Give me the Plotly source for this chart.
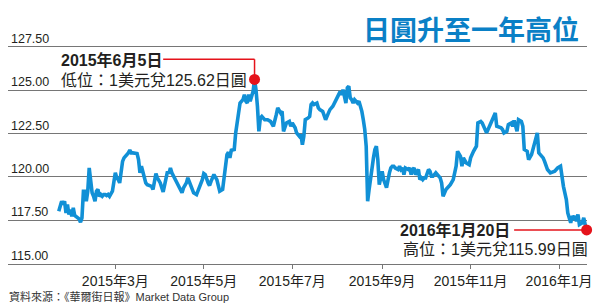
import plotly.graph_objects as go

# ---------------- data (USD/JPY closing rate) ----------------
dates = [
    # 2015-01
    "2015-01-21", "2015-01-23", "2015-01-24", "2015-01-25", "2015-01-26", "2015-01-27", "2015-01-28", "2015-01-29", "2015-01-30", "2015-01-31",
    # 2015-02
    "2015-02-01", "2015-02-02", "2015-02-03", "2015-02-04", "2015-02-05", "2015-02-06", "2015-02-07", "2015-02-08", "2015-02-09", "2015-02-10",
    "2015-02-11", "2015-02-12", "2015-02-13", "2015-02-14", "2015-02-15", "2015-02-16", "2015-02-17", "2015-02-18", "2015-02-19", "2015-02-20",
    "2015-02-21", "2015-02-22", "2015-02-23", "2015-02-24", "2015-02-25", "2015-02-27", "2015-02-28",
    # 2015-03
    "2015-03-01", "2015-03-02", "2015-03-03", "2015-03-04", "2015-03-05", "2015-03-06", "2015-03-07", "2015-03-08", "2015-03-09", "2015-03-10",
    "2015-03-11", "2015-03-12", "2015-03-13", "2015-03-15", "2015-03-16", "2015-03-17", "2015-03-18", "2015-03-19", "2015-03-20", "2015-03-21",
    "2015-03-22", "2015-03-23", "2015-03-26", "2015-03-27", "2015-03-29", "2015-03-30",
    # 2015-04
    "2015-04-01", "2015-04-03", "2015-04-05", "2015-04-06", "2015-04-07", "2015-04-08", "2015-04-09", "2015-04-12", "2015-04-14", "2015-04-16",
    "2015-04-17", "2015-04-19", "2015-04-20", "2015-04-22", "2015-04-24", "2015-04-26", "2015-04-28", "2015-04-30",
    # 2015-05
    "2015-05-01", "2015-05-02", "2015-05-04", "2015-05-05", "2015-05-06", "2015-05-08", "2015-05-10", "2015-05-11", "2015-05-12", "2015-05-14",
    "2015-05-15", "2015-05-17", "2015-05-18", "2015-05-19", "2015-05-20", "2015-05-22", "2015-05-23", "2015-05-24", "2015-05-25", "2015-05-26",
    "2015-05-28", "2015-05-29", "2015-05-30", "2015-05-31",
    # 2015-06
    "2015-06-01", "2015-06-02", "2015-06-03", "2015-06-04", "2015-06-05", "2015-06-06", "2015-06-07", "2015-06-08", "2015-06-09", "2015-06-10",
    "2015-06-12", "2015-06-14", "2015-06-16", "2015-06-18", "2015-06-20", "2015-06-21", "2015-06-23", "2015-06-24", "2015-06-25", "2015-06-27",
    "2015-06-29", "2015-06-30",
    # 2015-07
    "2015-07-01", "2015-07-03", "2015-07-04", "2015-07-06", "2015-07-07", "2015-07-08", "2015-07-09", "2015-07-10", "2015-07-12", "2015-07-13",
    "2015-07-14", "2015-07-15", "2015-07-16", "2015-07-18", "2015-07-19", "2015-07-20", "2015-07-22", "2015-07-24", "2015-07-26", "2015-07-27",
    "2015-07-29", "2015-07-31",
    # 2015-08
    "2015-08-02", "2015-08-03", "2015-08-04", "2015-08-05", "2015-08-06", "2015-08-07", "2015-08-08", "2015-08-09", "2015-08-10", "2015-08-11",
    "2015-08-12", "2015-08-13", "2015-08-15", "2015-08-16", "2015-08-17", "2015-08-18", "2015-08-19", "2015-08-20", "2015-08-21", "2015-08-22",
    "2015-08-23", "2015-08-24", "2015-08-25", "2015-08-26", "2015-08-27", "2015-08-28", "2015-08-29", "2015-08-30",
    # 2015-09
    "2015-09-01", "2015-09-02", "2015-09-04", "2015-09-05", "2015-09-06", "2015-09-07", "2015-09-08", "2015-09-09", "2015-09-10", "2015-09-12",
    "2015-09-13", "2015-09-14", "2015-09-15", "2015-09-16", "2015-09-17", "2015-09-19", "2015-09-20", "2015-09-21", "2015-09-22", "2015-09-23",
    "2015-09-24", "2015-09-26", "2015-09-27", "2015-09-28", "2015-09-29", "2015-09-30",
    # 2015-10
    "2015-10-01", "2015-10-03", "2015-10-04", "2015-10-05", "2015-10-06", "2015-10-07", "2015-10-08", "2015-10-11", "2015-10-12", "2015-10-13",
    "2015-10-15", "2015-10-18", "2015-10-20", "2015-10-22", "2015-10-23", "2015-10-25", "2015-10-26", "2015-10-27", "2015-10-29", "2015-10-31",
    # 2015-11
    "2015-11-01", "2015-11-03", "2015-11-05", "2015-11-06", "2015-11-08", "2015-11-09", "2015-11-12", "2015-11-15", "2015-11-18", "2015-11-19",
    "2015-11-22", "2015-11-23", "2015-11-24", "2015-11-26", "2015-11-27", "2015-11-29", "2015-11-30",
    # 2015-12
    "2015-12-01", "2015-12-03", "2015-12-04", "2015-12-06", "2015-12-07", "2015-12-08", "2015-12-10", "2015-12-11", "2015-12-13", "2015-12-15",
    "2015-12-17", "2015-12-18", "2015-12-20", "2015-12-21", "2015-12-22", "2015-12-24", "2015-12-26", "2015-12-29", "2015-12-31",
    # 2016-01
    "2016-01-02", "2016-01-04", "2016-01-06", "2016-01-07", "2016-01-08", "2016-01-09", "2016-01-10", "2016-01-11", "2016-01-12", "2016-01-13",
    "2016-01-14", "2016-01-15", "2016-01-17", "2016-01-18", "2016-01-19", "2016-01-20",
]

usd_jpy = [
    # 2015-01
    118.03, 118.60, 118.41, 118.60, 117.93, 118.41, 117.84, 118.12, 117.74, 118.22,
    # 2015-02
    117.78, 117.70, 117.65, 117.59, 117.39, 117.65, 119.18, 119.18, 118.60, 119.18,
    120.52, 119.75, 119.09, 118.89, 118.60, 119.18, 119.28, 118.89, 118.99, 118.89,
    118.99, 118.99, 118.93, 118.99, 118.89, 119.18, 119.75,
    # 2015-03
    120.24, 119.95, 119.85, 119.66, 120.52, 120.90, 121.10, 121.19, 121.29, 121.39,
    121.54, 121.39, 121.39, 121.39, 121.35, 121.00, 120.24, 120.62, 120.24, 119.85,
    119.66, 119.56, 119.46, 119.28, 120.20, 119.95,
    # 2015-04
    119.66, 119.14, 119.95, 120.33, 120.20, 120.52, 120.24, 119.75, 119.37, 119.09,
    119.37, 119.66, 119.95, 119.46, 119.09, 118.99, 119.37, 119.85,
    # 2015-05
    120.20, 120.14, 119.66, 119.51, 119.75, 120.14, 119.85, 119.37, 119.18, 119.28,
    119.85, 121.29, 121.42, 121.10, 121.54, 121.58, 122.54, 123.30, 123.69, 124.26,
    124.45, 124.74, 124.36, 124.26,
    # 2015-06
    124.74, 124.36, 124.64, 124.93, 125.62, 125.03, 124.07, 122.63, 123.40, 123.49,
    123.30, 123.30, 123.20, 122.92, 123.59, 123.98, 123.69, 123.78, 122.63, 123.11,
    123.20, 122.92,
    # 2015-07
    123.11, 122.83, 122.54, 122.34, 122.44, 121.86, 122.34, 123.30, 123.40, 123.49,
    124.17, 124.26, 124.17, 124.26, 123.98, 123.88, 123.78, 123.30, 123.69, 123.88,
    124.07, 124.36,
    # 2015-08
    124.74, 124.93, 124.74, 125.03, 124.55, 124.26, 125.13, 125.22, 124.55, 124.45,
    124.26, 124.45, 124.26, 124.36, 124.07, 123.78, 123.30, 122.73, 121.77, 118.60,
    119.28, 120.04, 120.62, 121.10, 121.58, 121.77, 121.00, 119.56,
    # 2015-09
    120.33, 119.85, 119.39, 119.95, 120.24, 120.52, 120.62, 120.62, 120.52, 120.43,
    120.62, 120.43, 120.52, 120.14, 120.52, 120.43, 120.52, 120.14, 120.43, 120.52,
    120.14, 120.43, 119.85, 119.95, 119.85, 119.95,
    # 2015-10
    119.95, 120.43, 120.33, 120.04, 120.04, 120.14, 120.24, 119.95, 119.66, 118.89,
    119.28, 119.56, 119.85, 120.62, 121.48, 121.19, 120.62, 121.10, 120.81, 120.71,
    # 2015-11
    121.10, 121.48, 121.77, 123.11, 123.20, 123.11, 122.54, 123.11, 123.69, 122.92,
    122.83, 122.73, 122.54, 122.63, 123.01, 123.11, 122.92,
    # 2015-12
    123.26, 122.63, 123.30, 123.20, 122.92, 121.58, 121.48, 121.00, 121.29, 121.96,
    122.54, 121.39, 121.19, 121.10, 120.90, 120.43, 120.24, 120.33, 120.52,
    # 2016-01
    120.62, 119.46, 118.70, 117.93, 117.55, 117.36, 117.74, 117.65, 117.74, 117.45,
    117.84, 117.26, 117.36, 117.65, 117.26, 116.95,
]
assert len(dates) == len(usd_jpy), (len(dates), len(usd_jpy))

marked_dates = ["2015-06-05", "2016-01-20"]          # yen low / yen high
marked_values = [usd_jpy[dates.index(d)] for d in marked_dates]

y_ticks = [115.0, 117.5, 120.0, 122.5, 125.0, 127.5]
y_tick_labels = ["115.00", "117.50", "120.00", "122.50", "125.00", "127.50"]
x_ticks = ["2015-03-01", "2015-05-01", "2015-07-01", "2015-09-01", "2015-11-01", "2016-01-01"]
x_tick_labels = ["2015年3月", "2015年5月", "2015年7月", "2015年9月", "2015年11月", "2016年1月"]

title_text = "日圓升至一年高位"
low_date_text = "2015年6月5日"
low_note_text = "低位：1美元兌125.62日圓"
high_date_text = "2016年1月20日"
high_note_text = "高位：1美元兌115.99日圓"
source_text = "資料來源：《華爾街日報》Market Data Group"

# ---------------- styling / layout ----------------
W, H = 600, 303
PL, PR, PT, PB = 8, 587, 45, 264.4        # plot area in pixels
BLUE = "#1190d6"
RED = "#e5131b"
GRID = "#767676"
TXT = "#231f20"
FONT = "Liberation Sans, Arial, Noto Sans CJK TC, sans-serif"
CJK_BOLD = "Noto Sans CJK TC, sans-serif"

X_RANGE = ["2014-12-17", "2016-01-20 06:00"]
Y_RANGE = [114.99, 127.6]

LOW_LEADER_FROM = "2015-04-03"     # where the leader leaves the label
LOW_LEADER_LEVEL = 126.78
HIGH_LEADER_FROM = "2015-12-01"


def px(x):
    return (x - PL) / (PR - PL)


def py(y):
    return (PB - y) / (PB - PT)


fig = go.Figure()
fig.add_trace(go.Scatter(x=dates, y=usd_jpy, mode="lines",
                         line=dict(color=BLUE, width=3.6), hoverinfo="skip",
                         showlegend=False))

shapes = [
    dict(type="line", xref="x", yref="y", x0=LOW_LEADER_FROM, x1=marked_dates[0],
         y0=LOW_LEADER_LEVEL, y1=LOW_LEADER_LEVEL, line=dict(color=RED, width=1.5)),
    dict(type="line", xref="x", yref="y", x0=marked_dates[0], x1=marked_dates[0],
         y0=LOW_LEADER_LEVEL, y1=marked_values[0], line=dict(color=RED, width=1.5)),
    dict(type="line", xref="x", yref="y", x0=HIGH_LEADER_FROM, x1=marked_dates[1],
         y0=marked_values[1], y1=marked_values[1], line=dict(color=RED, width=1.5)),
]

fig.add_trace(go.Scatter(x=marked_dates, y=marked_values, mode="markers",
                         marker=dict(color=RED, size=11), hoverinfo="skip",
                         showlegend=False, cliponaxis=False))

ann = []
# y-axis value labels sit just above their gridlines, left-aligned
for v, lab in zip(y_ticks, y_tick_labels):
    ann.append(dict(text=lab, xref="paper", yref="y", x=px(9), y=v,
                    xanchor="left", yanchor="bottom", yshift=-1, showarrow=False,
                    font=dict(family=FONT, size=12.5, color=TXT)))
ann.append(dict(text=f"<b>{title_text}</b>", xref="paper", yref="paper",
                x=px(581), y=py(28.5), xanchor="right", yanchor="middle", showarrow=False,
                font=dict(family=CJK_BOLD, size=27, color="#0a80c6")))
ann.append(dict(text=f"<b>{low_date_text}</b>", xref="paper", yref="paper",
                x=px(59), y=py(60), xanchor="left", yanchor="middle", showarrow=False,
                font=dict(family=FONT, size=16, color=TXT)))
ann.append(dict(text=low_note_text, xref="paper", yref="paper",
                x=px(59), y=py(80.5), xanchor="left", yanchor="middle", showarrow=False,
                font=dict(family=FONT, size=16, color=TXT)))
ann.append(dict(text=f"<b>{high_date_text}</b>", xref="paper", yref="paper",
                x=px(512), y=py(230.5), xanchor="right", yanchor="middle", showarrow=False,
                font=dict(family=FONT, size=16, color=TXT)))
ann.append(dict(text=high_note_text, xref="paper", yref="paper",
                x=px(590), y=py(250), xanchor="right", yanchor="middle", showarrow=False,
                font=dict(family=FONT, size=16, color=TXT)))
ann.append(dict(text=source_text, xref="paper", yref="paper",
                x=px(7), y=py(296.5), xanchor="left", yanchor="middle", showarrow=False,
                font=dict(family=FONT, size=11, color="#333333")))

fig.update_layout(
    width=W, height=H, autosize=False,
    margin=dict(l=PL, r=W - PR, t=PT, b=H - PB, pad=0),
    paper_bgcolor="white", plot_bgcolor="white",
    font=dict(family=FONT, color=TXT),
    shapes=shapes, annotations=ann, showlegend=False,
)
fig.update_xaxes(type="date", range=X_RANGE, tickvals=x_ticks, ticktext=x_tick_labels,
                 ticks="outside", ticklen=4, tickwidth=1, tickcolor=GRID,
                 showline=True, linecolor=GRID, linewidth=1.2, showgrid=False,
                 zeroline=False, tickfont=dict(size=14, color=TXT))
fig.update_yaxes(range=Y_RANGE, tickvals=y_ticks, showticklabels=False,
                 ticks="", showgrid=True, gridcolor=GRID, gridwidth=1.2,
                 zeroline=False, showline=False)

fig.write_html("out.html")
